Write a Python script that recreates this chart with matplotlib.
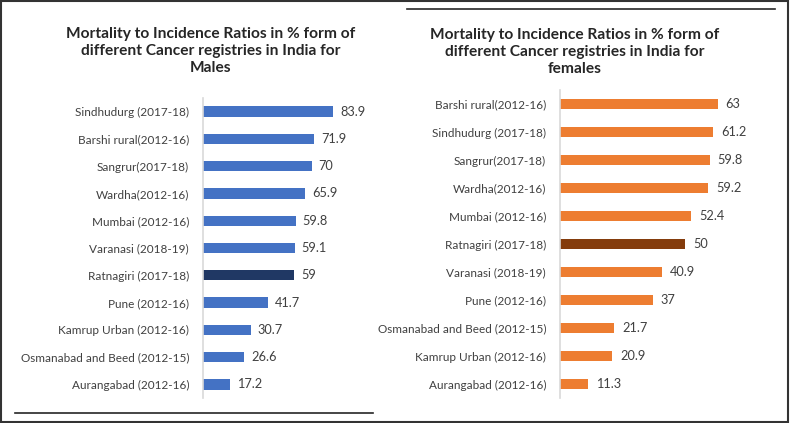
import matplotlib.pyplot as plt
from matplotlib.patches import Rectangle
from matplotlib.lines import Line2D

plt.rcParams['font.family'] = ['Lato', 'DejaVu Sans']

male_labels = ['Sindhudurg (2017-18)', 'Barshi rural(2012-16)', 'Sangrur(2017-18)',
               'Wardha(2012-16)', 'Mumbai (2012-16)', 'Varanasi (2018-19)',
               'Ratnagiri (2017-18)', 'Pune (2012-16)', 'Kamrup Urban (2012-16)',
               'Osmanabad and Beed (2012-15)', 'Aurangabad (2012-16)']
male_vals = [83.9, 71.9, 70, 65.9, 59.8, 59.1, 59, 41.7, 30.7, 26.6, 17.2]

female_labels = ['Barshi rural(2012-16)', 'Sindhudurg (2017-18)', 'Sangrur(2017-18)',
                 'Wardha(2012-16)', 'Mumbai (2012-16)', 'Ratnagiri (2017-18)',
                 'Varanasi (2018-19)', 'Pune (2012-16)', 'Osmanabad and Beed (2012-15)',
                 'Kamrup Urban (2012-16)', 'Aurangabad (2012-16)']
female_vals = [63, 61.2, 59.8, 59.2, 52.4, 50, 40.9, 37, 21.7, 20.9, 11.3]

W, H = 790, 423
fig = plt.figure(figsize=(W / 100, H / 100), dpi=100)
fig.patch.set_facecolor('white')


def px_axes(left, top, width, height):
    return fig.add_axes([left / W, 1 - (top + height) / H, width / W, height / H])


def panel(ax, labels, vals, color, hi_color, xmax):
    colors = [hi_color if l.startswith('Ratnagiri') else color for l in labels]
    y = list(range(len(labels)))
    ax.barh(y, vals, height=0.38, color=colors)
    ax.set_ylim(len(labels) - 0.5, -0.5)
    ax.set_xlim(0, xmax)
    ax.set_yticks(y)
    ax.set_yticklabels(labels, fontsize=8.5, color='#404040')
    ax.tick_params(axis='y', length=0, pad=10)
    ax.set_xticks([])
    for s in ['top', 'right', 'bottom']:
        ax.spines[s].set_visible(False)
    ax.spines['left'].set_color('#D9D9D9')
    ax.spines['left'].set_linewidth(1.2)
    for yi, v in zip(y, vals):
        ax.text(v + xmax * 0.045, yi, f'{v:g}', va='center', ha='left',
                fontsize=9.2, color='#404040')


ax1 = px_axes(203, 98, 155, 300)
panel(ax1, male_labels, male_vals, '#4472C4', '#203864', 100)
ax2 = px_axes(560, 90, 175, 308)
panel(ax2, female_labels, female_vals, '#ED7D31', '#843C0C', 70)

fig.text(211 / W, 1 - 51 / H,
         'Mortality to Incidence Ratios in % form of\ndifferent Cancer registries in India for\nMales',
         ha='center', va='center', fontsize=11.2, fontweight='bold', color='#262626',
         linespacing=1.3)
fig.text(575 / W, 1 - 52 / H,
         'Mortality to Incidence Ratios in % form of\ndifferent Cancer registries in India for\nfemales',
         ha='center', va='center', fontsize=11.2, fontweight='bold', color='#262626',
         linespacing=1.3)

# separator lines and outer frame
fig.add_artist(Line2D([15 / W, 373 / W], [1 - 413 / H] * 2, color='#262626', lw=1.2))
fig.add_artist(Line2D([407 / W, 775 / W], [1 - 9 / H] * 2, color='#262626', lw=1.2))
fig.add_artist(Rectangle((0.001, 0.002), 0.997, 0.995, transform=fig.transFigure,
                         fill=False, edgecolor='#333333', lw=1.5))

fig.savefig('out.png', dpi=100)
